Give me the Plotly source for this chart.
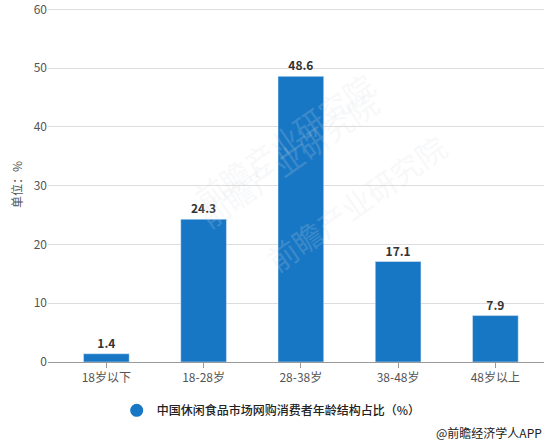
import plotly.graph_objects as go

# age groups and share of online snack buyers (%)
ages = ["18岁以下", "18-28岁", "28-38岁", "38-48岁", "48岁以上"]
share = [1.4, 24.3, 48.6, 17.1, 7.9]
y_ticks = [0, 10, 20, 30, 40, 50, 60]
series_name = "中国休闲食品市场网购消费者年龄结构占比（%）"

blue = "#1877C4"
font = "Noto Sans CJK SC"

fig = go.Figure()

fig.add_trace(go.Bar(
    x=ages, y=share, marker_color=blue, width=0.47,
    text=[f"{v:.1f}" for v in share], textposition="outside",
    textfont=dict(size=12, color="#333333", family=font, weight="bold"),
    cliponaxis=False, showlegend=False,
))

# legend entry with the round marker
fig.add_trace(go.Scatter(
    x=[None], y=[None], mode="markers", name=series_name,
    marker=dict(symbol="circle", size=13, color=blue),
))

# faint watermarks
for wx, wy in [(0.28, 0.8), (0.62, 0.22), (0.68, 0.85)]:
    fig.add_annotation(x=wx, y=wy, xref="paper", yref="paper", text="前瞻产业研究院",
                       showarrow=False, textangle=-35,
                       font=dict(size=30, color="rgba(215,220,226,0.2)", family=font))

fig.add_annotation(x=1.0, y=-0.198, xref="paper", yref="paper", text="@前瞻经济学人APP",
                   showarrow=False, xanchor="right", yanchor="middle",
                   font=dict(size=12, color="#222222", family=font))

fig.update_layout(
    width=551, height=444,
    margin=dict(l=48, r=7, t=7, b=82, autoexpand=False),
    paper_bgcolor="white", plot_bgcolor="white",
    font=dict(family=font, size=12, color="#555555"),
    bargap=0.5,
    legend=dict(orientation="h", x=0.45, xanchor="center", y=-0.136, yanchor="middle",
                font=dict(size=12, color="#222222", family=font, weight=500)),
)

fig.update_xaxes(range=[-0.6, 4.5], showline=True, linecolor="#999999", linewidth=1,
                 ticks="outside", ticklen=5, tickcolor="#999999", automargin=False,
                 tickfont=dict(size=12, color="#555555"), showgrid=False)
fig.update_yaxes(range=[0, 60.4], tickmode="array", tickvals=y_ticks,
                 showgrid=True, gridcolor="#dddddd", ticklabeloverflow="allow",
                 zeroline=False, ticks="", automargin=False,
                 tickfont=dict(size=12, color="#555555"),
                 title=dict(text="单位：%", font=dict(size=12, color="#555555"), standoff=8))

# page body has a default 8px margin; drop it so the chart sits at the corner
fig.write_html("out.html", config={"displayModeBar": False},
               post_script="document.body.style.margin='0';")
